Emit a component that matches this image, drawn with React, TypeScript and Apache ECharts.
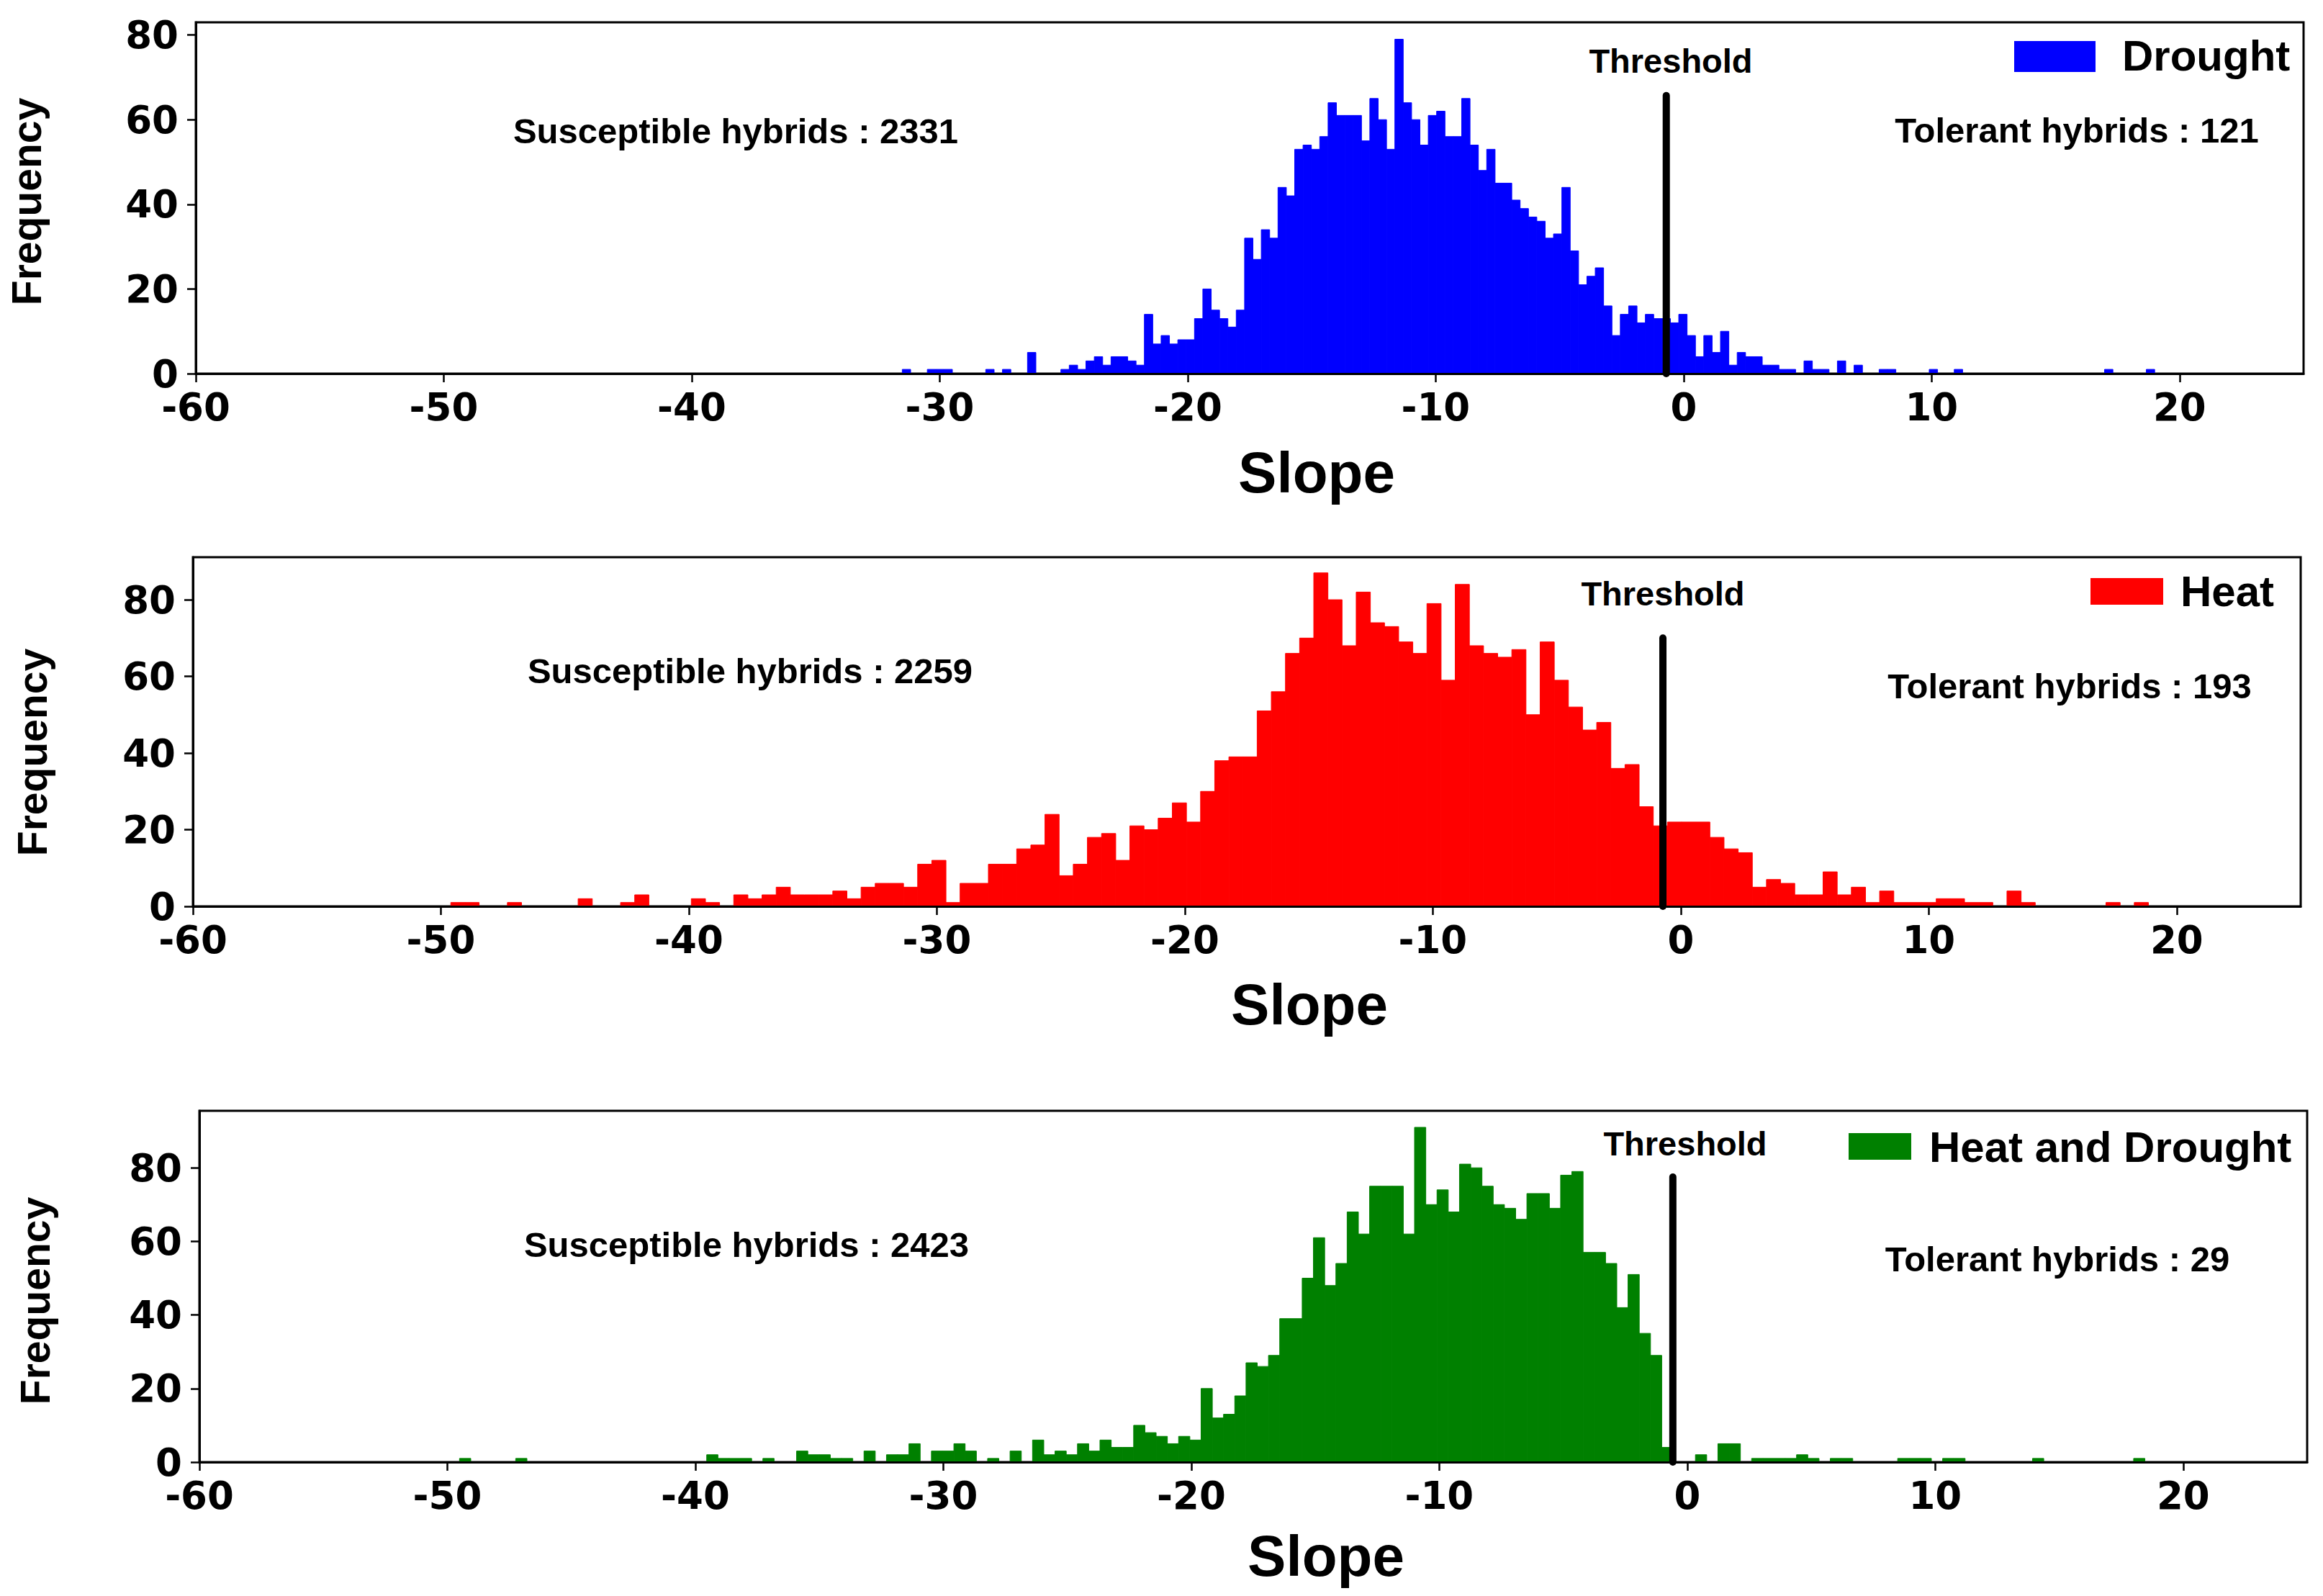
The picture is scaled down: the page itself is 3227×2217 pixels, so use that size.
import React, { useEffect, useRef } from "react";
import * as echarts from "echarts";

// ---------- data ----------
const DROUGHT_START = -31.51;
const DROUGHT_WIDTH = 0.3367;
const DROUGHT_COUNTS = [
  1, 0, 0, 1, 1, 1, 0, 0, 0, 0, 1, 0, 1, 0, 0, 5, 0, 0, 0, 1,
  2, 1, 3, 4, 2, 4, 4, 3, 2, 14, 7, 9, 7, 8, 8, 13, 20, 15, 13, 11,
  15, 32, 27, 34, 32, 44, 42, 53, 54, 53, 56, 64, 61, 61, 61, 55, 65, 60, 53, 79,
  64, 60, 54, 61, 62, 56, 56, 65, 54, 48, 53, 45, 45, 41, 39, 37, 36, 32, 33, 44,
  29, 21, 23, 25, 16, 9, 14, 16, 12, 14, 13, 13, 12, 14, 9, 4, 9, 5, 10, 2,
  5, 4, 4, 2, 2, 1, 1, 0, 3, 1, 1, 0, 3, 0, 2, 0, 0, 1, 1, 0,
  0, 0, 0, 1, 0, 0, 1, 0, 0, 0, 0, 0, 0, 0, 0, 0, 0, 0, 0, 0,
  0, 0, 0, 0, 1, 0, 0, 0, 0, 1,
];

const HEAT_START = -49.6;
const HEAT_WIDTH = 0.5705;
const HEAT_COUNTS = [
  1, 1, 0, 0, 1, 0, 0, 0, 0, 2, 0, 0, 1, 3, 0, 0, 0, 2, 1, 0,
  3, 2, 3, 5, 3, 3, 3, 4, 2, 5, 6, 6, 5, 11, 12, 1, 6, 6, 11, 11,
  15, 16, 24, 8, 11, 18, 19, 12, 21, 20, 23, 27, 22, 30, 38, 39, 39, 51, 56, 66,
  70, 87, 80, 68, 82, 74, 73, 69, 66, 79, 59, 84, 68, 66, 65, 67, 50, 69, 59, 52,
  46, 48, 36, 37, 26, 21, 22, 22, 22, 18, 15, 14, 5, 7, 6, 3, 3, 9, 3, 5,
  1, 4, 1, 1, 1, 2, 2, 1, 1, 0, 4, 1, 0, 0, 0, 0, 0, 1, 0, 1,
];

const BOTH_START = -49.51;
const BOTH_WIDTH = 0.4531;
const BOTH_COUNTS = [
  1, 0, 0, 0, 0, 1, 0, 0, 0, 0, 0, 0, 0, 0, 0, 0, 0, 0, 0, 0,
  0, 0, 2, 1, 1, 1, 0, 1, 0, 0, 3, 2, 2, 1, 1, 0, 3, 0, 2, 2,
  5, 0, 3, 3, 5, 3, 0, 1, 0, 3, 0, 6, 2, 3, 2, 5, 3, 6, 4, 4,
  10, 8, 7, 5, 7, 6, 20, 12, 13, 18, 27, 26, 29, 39, 39, 50, 61, 48, 54, 68,
  62, 75, 75, 75, 62, 91, 70, 74, 68, 81, 80, 75, 70, 69, 66, 73, 73, 69, 78, 79,
  57, 57, 54, 42, 51, 35, 29, 4, 0, 0, 2, 0, 5, 5, 0, 1, 1, 1, 1, 2,
  1, 0, 1, 1, 0, 0, 0, 0, 1, 1, 1, 0, 1, 1, 0, 0, 0, 0, 0, 0,
  1, 0, 0, 0, 0, 0, 0, 0, 0, 1,
];

const THRESHOLDS = [-0.7, -0.72, -0.58];
const THRESHOLD_TOPS = [65.7, 70, 77.5];
const Y_MAX = [83, 91.1, 95.5];
const X_TICKS = [-60, -50, -40, -30, -20, -10, 0, 10, 20];
const Y_TICKS = [0, 20, 40, 60, 80];
const SERIES_NAMES = ["Drought", "Heat", "Heat and Drought"];
const SUSCEPTIBLE = [2331, 2259, 2423];
const TOLERANT = [121, 193, 29];
const COLORS = ["#0000ff", "#ff0000", "#008000"];

// ---------- layout ----------
const W = 3227;
const H = 2217;
const GRIDS = [
  { left: 272, top: 31, width: 2928, height: 488 },
  { left: 268, top: 774, width: 2928, height: 485 },
  { left: 277, top: 1543, width: 2928, height: 488 },
];
const SUSC_POS = [[1022, 182], [1042, 932], [1037, 1729]];
const TOL_POS = [[2885, 181], [2875, 953], [2858, 1749]];
const THR_POS = [[2321, 84], [2310, 824], [2341, 1588]];
const LEG_RECT = [
  [2798, 57, 113, 43],
  [2904, 803, 101, 37],
  [2568, 1574, 87, 37],
];
const LEG_TEXT = [[2948, 77], [3029, 821], [2680, 1593]];
const SLOPE_POS = [[1829, 656], [1819, 1395], [1842, 2161]];
const FREQ_POS = [[37, 280], [45, 1045], [49, 1807]];

const TICK_FONT = '"DejaVu Sans", sans-serif';
const TEXT_FONT = '"Liberation Sans", Arial, sans-serif';

function histData(start: number, width: number, counts: number[]) {
  const out: number[][] = [];
  counts.forEach((c, i) => {
    if (c > 0) out.push([start + i * width, start + (i + 1) * width, c]);
  });
  return out;
}

const HISTS = [
  histData(DROUGHT_START, DROUGHT_WIDTH, DROUGHT_COUNTS),
  histData(HEAT_START, HEAT_WIDTH, HEAT_COUNTS),
  histData(BOTH_START, BOTH_WIDTH, BOTH_COUNTS),
];

function buildOption() {
  const grid = GRIDS.map((g) => ({
    ...g,
    show: true,
    borderColor: "#000",
    borderWidth: 3,
    backgroundColor: "transparent",
  }));
  const xAxis = GRIDS.map((_, i) => ({
    type: "value",
    gridIndex: i,
    min: -60,
    max: 25,
    interval: 10,
    z: 10,
    axisLine: { show: true, onZero: false, lineStyle: { color: "#000", width: 3 } },
    axisTick: {
      show: true,
      inside: false,
      length: 12,
      lineStyle: { color: "#000", width: 2.5 },
      customValues: X_TICKS,
    },
    axisLabel: {
      show: true,
      color: "#000",
      fontFamily: TICK_FONT,
      fontWeight: "bold",
      fontSize: 53,
      margin: 20,
      customValues: X_TICKS,
    },
    splitLine: { show: false },
  }));
  const yAxis = GRIDS.map((_, i) => ({
    type: "value",
    gridIndex: i,
    min: 0,
    max: Y_MAX[i],
    interval: 20,
    z: 10,
    axisLine: { show: true, onZero: false, lineStyle: { color: "#000", width: 3 } },
    axisTick: {
      show: true,
      inside: false,
      length: 12,
      lineStyle: { color: "#000", width: 2.5 },
      customValues: Y_TICKS,
    },
    axisLabel: {
      show: true,
      color: "#000",
      fontFamily: TICK_FONT,
      fontWeight: "bold",
      fontSize: 53,
      lineHeight: 40,
      margin: 24,
      customValues: Y_TICKS,
    },
    splitLine: { show: false },
  }));

  const series: any[] = [];
  HISTS.forEach((data, i) => {
    const color = COLORS[i];
    series.push({
      type: "custom",
      name: SERIES_NAMES[i],
      xAxisIndex: i,
      yAxisIndex: i,
      silent: true,
      z: 2,
      data,
      encode: { x: [0, 1], y: 2 },
      renderItem: (_params: any, api: any) => {
        const p0 = api.coord([api.value(0), api.value(2)]);
        const p1 = api.coord([api.value(1), 0]);
        return {
          type: "rect",
          shape: { x: p0[0], y: p0[1], width: p1[0] - p0[0], height: p1[1] - p0[1] },
          style: { fill: color, stroke: color, lineWidth: 1 },
        };
      },
    });
    series.push({
      type: "line",
      xAxisIndex: i,
      yAxisIndex: i,
      silent: true,
      symbol: "none",
      z: 20,
      data: [
        [THRESHOLDS[i], 0],
        [THRESHOLDS[i], THRESHOLD_TOPS[i]],
      ],
      lineStyle: { color: "#000", width: 10, cap: "round" },
    });
  });

  const graphic: any[] = [];
  for (let i = 0; i < 3; i++) {
    graphic.push({
      type: "text",
      x: SUSC_POS[i][0],
      y: SUSC_POS[i][1],
      style: {
        text: `Susceptible hybrids : ${SUSCEPTIBLE[i]}`,
        font: `bold 49px ${TEXT_FONT}`,
        fill: "#000",
        align: "center",
        verticalAlign: "middle",
      },
    });
    graphic.push({
      type: "text",
      x: TOL_POS[i][0],
      y: TOL_POS[i][1],
      style: {
        text: `Tolerant hybrids : ${TOLERANT[i]}`,
        font: `bold 49px ${TEXT_FONT}`,
        fill: "#000",
        align: "center",
        verticalAlign: "middle",
      },
    });
    graphic.push({
      type: "text",
      x: THR_POS[i][0],
      y: THR_POS[i][1],
      style: {
        text: "Threshold",
        font: `bold 47px ${TEXT_FONT}`,
        fill: "#000",
        align: "center",
        verticalAlign: "middle",
      },
    });
    graphic.push({
      type: "rect",
      shape: { x: LEG_RECT[i][0], y: LEG_RECT[i][1], width: LEG_RECT[i][2], height: LEG_RECT[i][3] },
      style: { fill: COLORS[i] },
    });
    graphic.push({
      type: "text",
      x: LEG_TEXT[i][0],
      y: LEG_TEXT[i][1],
      style: {
        text: SERIES_NAMES[i],
        font: `bold 60px ${TEXT_FONT}`,
        fill: "#000",
        align: "left",
        verticalAlign: "middle",
      },
    });
    graphic.push({
      type: "text",
      x: SLOPE_POS[i][0],
      y: SLOPE_POS[i][1],
      style: {
        text: "Slope",
        font: `bold 80px ${TEXT_FONT}`,
        fill: "#000",
        align: "center",
        verticalAlign: "middle",
      },
    });
    graphic.push({
      type: "text",
      x: FREQ_POS[i][0],
      y: FREQ_POS[i][1],
      rotation: Math.PI / 2,
      style: {
        text: "Frequency",
        font: `bold 57px ${TEXT_FONT}`,
        fill: "#000",
        align: "center",
        verticalAlign: "middle",
      },
    });
  }

  return {
    animation: false,
    backgroundColor: "#ffffff",
    grid,
    xAxis,
    yAxis,
    series,
    graphic,
  };
}

export default function App() {
  const ref = useRef<HTMLDivElement>(null);
  useEffect(() => {
    document.body.style.margin = "0";
    const chart = echarts.init(ref.current as HTMLDivElement, undefined, {
      renderer: "svg",
      width: W,
      height: H,
    });
    chart.setOption(buildOption() as any);
    return () => chart.dispose();
  }, []);
  return (
    <div
      ref={ref}
      style={{ position: "absolute", left: 0, top: 0, width: W, height: H, background: "#fff" }}
    />
  );
}
